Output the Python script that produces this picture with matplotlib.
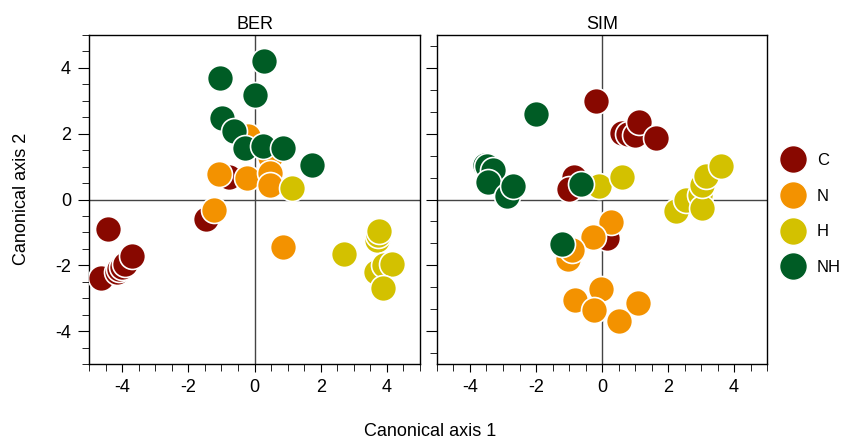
import matplotlib
matplotlib.use("Agg")
import matplotlib.pyplot as plt
from matplotlib.ticker import MultipleLocator
from matplotlib.lines import Line2D

plt.rcParams['font.family'] = ['Liberation Sans', 'DejaVu Sans']
plt.rcParams['axes.unicode_minus'] = False

groups = ["C", "N", "H", "NH"]
colors = {"C": "#880800", "N": "#F39200", "H": "#D3C100", "NH": "#005C25"}

# BER panel: canonical scores (axis 1, axis 2) per group
ber_x = {
    "C": [-4.43, -4.64, -4.15, -4.08, -4.0, -3.92, -3.7, -1.48, -0.78],
    "N": [-0.2, 0.46, -1.08, -0.24, 0.46, 0.48, -1.23, 0.86],
    "H": [1.14, 2.69, 3.7, 3.74, 3.77, 3.67, 3.92, 4.14, 3.87],
    "NH": [0.28, -1.03, 0.03, -0.98, -0.61, -0.3, 0.26, 0.87, 1.73],
}
ber_y = {
    "C": [-0.89, -2.38, -2.2, -2.12, -2.05, -1.97, -1.73, -0.59, 0.68],
    "N": [1.94, 1.28, 0.78, 0.66, 0.8, 0.45, -0.33, -1.45],
    "H": [0.34, -1.65, -1.22, -1.09, -0.96, -2.2, -2.0, -1.97, -2.68],
    "NH": [4.21, 3.69, 3.18, 2.48, 2.07, 1.58, 1.63, 1.56, 1.06],
}

# SIM panel
sim_x = {
    "C": [-0.17, 0.61, 0.78, 1.01, 1.11, 1.65, -0.86, -1.01, 0.15],
    "N": [0.27, -0.27, -1.04, -0.91, -0.03, -0.81, -0.23, 1.08, 0.5],
    "H": [-0.1, 0.61, 2.25, 2.55, 2.98, 3.03, 3.03, 3.16, 3.61],
    "NH": [-3.56, -3.49, -3.31, -3.44, -2.88, -2.71, -0.63, -1.21, -1.99],
}
sim_y = {
    "C": [2.98, 2.02, 2.0, 1.95, 2.35, 1.88, 0.68, 0.33, -1.18],
    "N": [-0.68, -1.15, -1.82, -1.54, -2.73, -3.05, -3.37, -3.15, -3.68],
    "H": [0.4, 0.69, -0.34, -0.02, 0.13, -0.27, 0.43, 0.71, 1.01],
    "NH": [1.04, 1.01, 0.91, 0.53, 0.1, 0.4, 0.46, -1.35, 2.61],
}

fig = plt.figure(figsize=(8.59, 4.42), dpi=100)
ax1 = fig.add_axes([89 / 859, 78 / 442, 331 / 859, 329 / 442])
ax2 = fig.add_axes([437 / 859, 78 / 442, 330 / 859, 329 / 442])

for ax, xs, ys, title in [(ax1, ber_x, ber_y, "BER"), (ax2, sim_x, sim_y, "SIM")]:
    ax.axhline(0, color="#444444", lw=1, zorder=1)
    ax.axvline(0, color="#444444", lw=1, zorder=1)
    for g in groups:
        ax.scatter(xs[g], ys[g], s=350, color=colors[g], edgecolor="white",
                   linewidth=1.2, zorder=3)
    ax.set_xlim(-5, 5)
    ax.set_ylim(-5, 5)
    ax.set_title(title, fontsize=13, pad=4)
    ax.xaxis.set_major_locator(MultipleLocator(2))
    ax.xaxis.set_minor_locator(MultipleLocator(0.5))
    ax.tick_params(axis="x", which="major", length=6, labelsize=13, pad=5)
    ax.tick_params(axis="x", which="minor", length=5)
    for sp in ax.spines.values():
        sp.set_linewidth(1)

ax1.yaxis.set_major_locator(MultipleLocator(2))
ax1.yaxis.set_minor_locator(MultipleLocator(0.5))
ax1.tick_params(axis="y", which="major", length=8, labelsize=13, pad=5)
ax1.tick_params(axis="y", which="minor", length=5)

ax2.yaxis.set_major_locator(MultipleLocator(2))
ax2.yaxis.set_minor_locator(MultipleLocator(2 / 3))
ax2.tick_params(axis="y", which="major", length=8, labelleft=False)
ax2.tick_params(axis="y", which="minor", length=5)

fig.text(430 / 859, 1 - 432 / 442, "Canonical axis 1", ha="center", va="center", fontsize=13)
fig.text(22 / 859, 1 - 199 / 442, "Canonical axis 2", ha="center", va="center",
         rotation=90, fontsize=13)

handles = [Line2D([], [], marker="o", linestyle="", markersize=20,
                  markerfacecolor=colors[g], markeredgecolor="white", label=g)
           for g in groups]
fig.legend(handles=handles, loc="center left", bbox_to_anchor=(761 / 859, 1 - 214 / 442),
           frameon=False, fontsize=12, labelspacing=1.25, handletextpad=0.45)

fig.savefig("out.png", dpi=100)
